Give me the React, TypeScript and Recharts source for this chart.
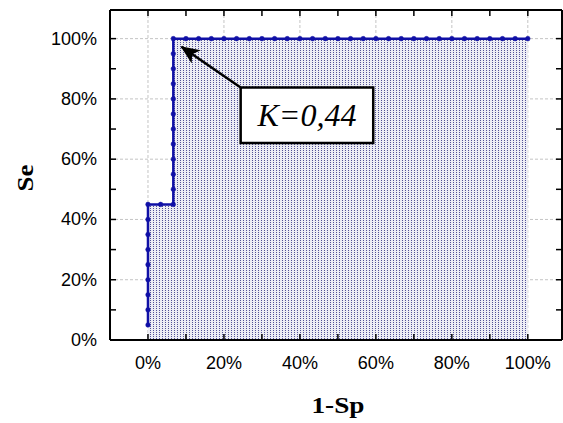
import React from 'react';
import {
  ComposedChart,
  Area,
  XAxis,
  YAxis,
  CartesianGrid,
  ReferenceLine,
  ReferenceArea,
} from 'recharts';

// 1-Sp (false positive rate, %) for each ROC point
const fprValues = [
  0, 0, 0, 0, 0, 0, 0, 0, 0,
  3.33, 6.67,
  6.67, 6.67, 6.67, 6.67, 6.67, 6.67, 6.67, 6.67, 6.67, 6.67, 6.67,
  10, 13.33, 16.67, 20, 23.33, 26.67, 30, 33.33, 36.67, 40, 43.33, 46.67, 50,
  53.33, 56.67, 60, 63.33, 66.67, 70, 73.33, 76.67, 80, 83.33, 86.67, 90, 93.33,
  96.67, 100,
];
// Se (sensitivity, %) for each ROC point
const seValues = [
  5, 10, 15, 20, 25, 30, 35, 40, 45,
  45, 45,
  50, 55, 60, 65, 70, 75, 80, 85, 90, 95, 100,
  100, 100, 100, 100, 100, 100, 100, 100, 100, 100, 100, 100, 100,
  100, 100, 100, 100, 100, 100, 100, 100, 100, 100, 100, 100, 100,
  100, 100,
];

const xTicks = [0, 10, 20, 30, 40, 50, 60, 70, 80, 90, 100];
const yTicks = [0, 10, 20, 30, 40, 50, 60, 70, 80, 90, 100];
const gridValues = [0, 20, 40, 60, 80, 100];
const xDomain = [-10, 109];
const yDomain = [0, 109.5];

const annotationText = 'K=0,44';
const annotationBox = { x1: 24.4, x2: 59.3, y1: 65.4, y2: 83.8 };
const arrowSegment = [
  { x: 24.4, y: 83.8 },
  { x: 8.8, y: 97.3 },
];

const data = fprValues.map((x, i) => ({ fpr: x, se: seValues[i] }));

const SANS = '"Liberation Sans", Arial, sans-serif';
const SERIF = '"Liberation Serif", "Times New Roman", serif';
const LINE_COLOR = '#1010a6';

const BottomTick = (props: any) => {
  const { x, y, payload } = props;
  const v = payload.value;
  return (
    <g>
      <line x1={x} x2={x} y1={y} y2={y - 6} stroke="#000" strokeWidth={1.5} />
      {v % 20 === 0 && (
        <text
          x={x}
          y={y + 23}
          textAnchor="middle"
          dominantBaseline="central"
          fontFamily={SANS}
          fontSize={18}
          fill="#000"
        >
          {v}%
        </text>
      )}
    </g>
  );
};

const TopTick = (props: any) => {
  const { x, y } = props;
  return <line x1={x} x2={x} y1={y} y2={y + 6} stroke="#000" strokeWidth={1.5} />;
};

const LeftTick = (props: any) => {
  const { x, y, payload } = props;
  const v = payload.value;
  return (
    <g>
      <line x1={x} x2={x + 6} y1={y} y2={y} stroke="#000" strokeWidth={1.5} />
      {v % 20 === 0 && (
        <text
          x={x - 13}
          y={y}
          textAnchor="end"
          dominantBaseline="central"
          fontFamily={SANS}
          fontSize={18}
          fill="#000"
        >
          {v}%
        </text>
      )}
    </g>
  );
};

const RightTick = (props: any) => {
  const { x, y } = props;
  return <line x1={x} x2={x - 6} y1={y} y2={y} stroke="#000" strokeWidth={1.5} />;
};

const XTitle = (props: any) => {
  const vb = props.viewBox;
  return (
    <text
      x={vb.x + vb.width / 2 + 2}
      y={vb.y + 73}
      textAnchor="middle"
      fontFamily={SERIF}
      fontWeight="bold"
      fontSize={23}
      textLength={53}
      lengthAdjust="spacingAndGlyphs"
      fill="#000"
    >
      1-Sp
    </text>
  );
};

const YTitle = (props: any) => {
  const vb = props.viewBox;
  const cx = 33;
  const cy = vb.y + vb.height / 2 + 3;
  return (
    <text
      x={cx}
      y={cy}
      transform={`rotate(-90, ${cx}, ${cy})`}
      textAnchor="middle"
      fontFamily={SERIF}
      fontWeight="bold"
      fontSize={23}
      textLength={27}
      lengthAdjust="spacingAndGlyphs"
      fill="#000"
    >
      Se
    </text>
  );
};

const Arrow = (p: any) => (
  <line
    x1={p.x1}
    y1={p.y1}
    x2={p.x2}
    y2={p.y2}
    stroke="#000"
    strokeWidth={2.5}
    markerEnd="url(#arrowHead)"
  />
);

const BoxLabel = (props: any) => {
  const vb = props.viewBox;
  return (
    <text
      x={vb.x + vb.width / 2}
      y={vb.y + vb.height / 2}
      textAnchor="middle"
      dominantBaseline="central"
      fontFamily={SERIF}
      fontStyle="italic"
      fontSize={32}
      fill="#000"
    >
      {annotationText}
    </text>
  );
};

export default function App() {
  return (
    <>
      <style>{'body{margin:0}'}</style>
      <ComposedChart
        width={563}
        height={423}
        data={data}
        margin={{ top: 0, right: 0, bottom: 0, left: 0 }}
        style={{ background: '#fff' }}
      >
        <defs>
          <pattern id="dots" width="3" height="2" patternUnits="userSpaceOnUse">
            <rect x="0" y="0" width="3" height="2" fill="#ededf4" />
            <rect x="0" y="0" width="1" height="1" fill="#525296" />
          </pattern>
          <marker
            id="arrowHead"
            markerWidth="20"
            markerHeight="16"
            refX="18"
            refY="8"
            orient="auto"
            markerUnits="userSpaceOnUse"
          >
            <path d="M0,0 L19,8 L0,16 L5,8 Z" fill="#000" />
          </marker>
        </defs>
        <CartesianGrid
          stroke="#c4c4c4"
          strokeDasharray="3 2"
          verticalValues={gridValues}
          horizontalValues={gridValues}
        />
        <XAxis
          dataKey="fpr"
          type="number"
          domain={xDomain}
          allowDataOverflow
          ticks={xTicks}
          interval={0}
          height={83}
          tickSize={0}
          tickMargin={0}
          tickLine={false}
          axisLine={{ stroke: '#000', strokeWidth: 2 }}
          tick={<BottomTick />}
          label={{ content: XTitle }}
        />
        <XAxis
          xAxisId="top"
          orientation="top"
          dataKey="fpr"
          type="number"
          domain={xDomain}
          allowDataOverflow
          ticks={xTicks}
          interval={0}
          height={10}
          tickSize={0}
          tickMargin={0}
          tickLine={false}
          axisLine={{ stroke: '#000', strokeWidth: 2 }}
          tick={<TopTick />}
        />
        <YAxis
          type="number"
          domain={yDomain}
          allowDataOverflow
          ticks={yTicks}
          interval={0}
          width={110}
          tickSize={0}
          tickMargin={0}
          tickLine={false}
          axisLine={{ stroke: '#000', strokeWidth: 2 }}
          tick={<LeftTick />}
          label={{ content: YTitle }}
        />
        <YAxis
          yAxisId="right"
          orientation="right"
          type="number"
          domain={yDomain}
          allowDataOverflow
          ticks={yTicks}
          interval={0}
          width={1}
          tickSize={0}
          tickMargin={0}
          tickLine={false}
          axisLine={{ stroke: '#000', strokeWidth: 2 }}
          tick={<RightTick />}
        />
        <Area
          type="linear"
          dataKey="se"
          stroke={LINE_COLOR}
          strokeWidth={2.5}
          fill="url(#dots)"
          fillOpacity={1}
          dot={{ r: 2.3, fill: LINE_COLOR, stroke: LINE_COLOR, strokeWidth: 0.5 }}
          activeDot={false}
          isAnimationActive={false}
        />
        <ReferenceLine segment={arrowSegment} shape={Arrow} ifOverflow="visible" />
        <ReferenceArea
          x1={annotationBox.x1}
          x2={annotationBox.x2}
          y1={annotationBox.y1}
          y2={annotationBox.y2}
          fill="#fff"
          fillOpacity={1}
          stroke="#000"
          strokeWidth={2.5}
          ifOverflow="visible"
          label={{ content: BoxLabel }}
        />
      </ComposedChart>
    </>
  );
}
